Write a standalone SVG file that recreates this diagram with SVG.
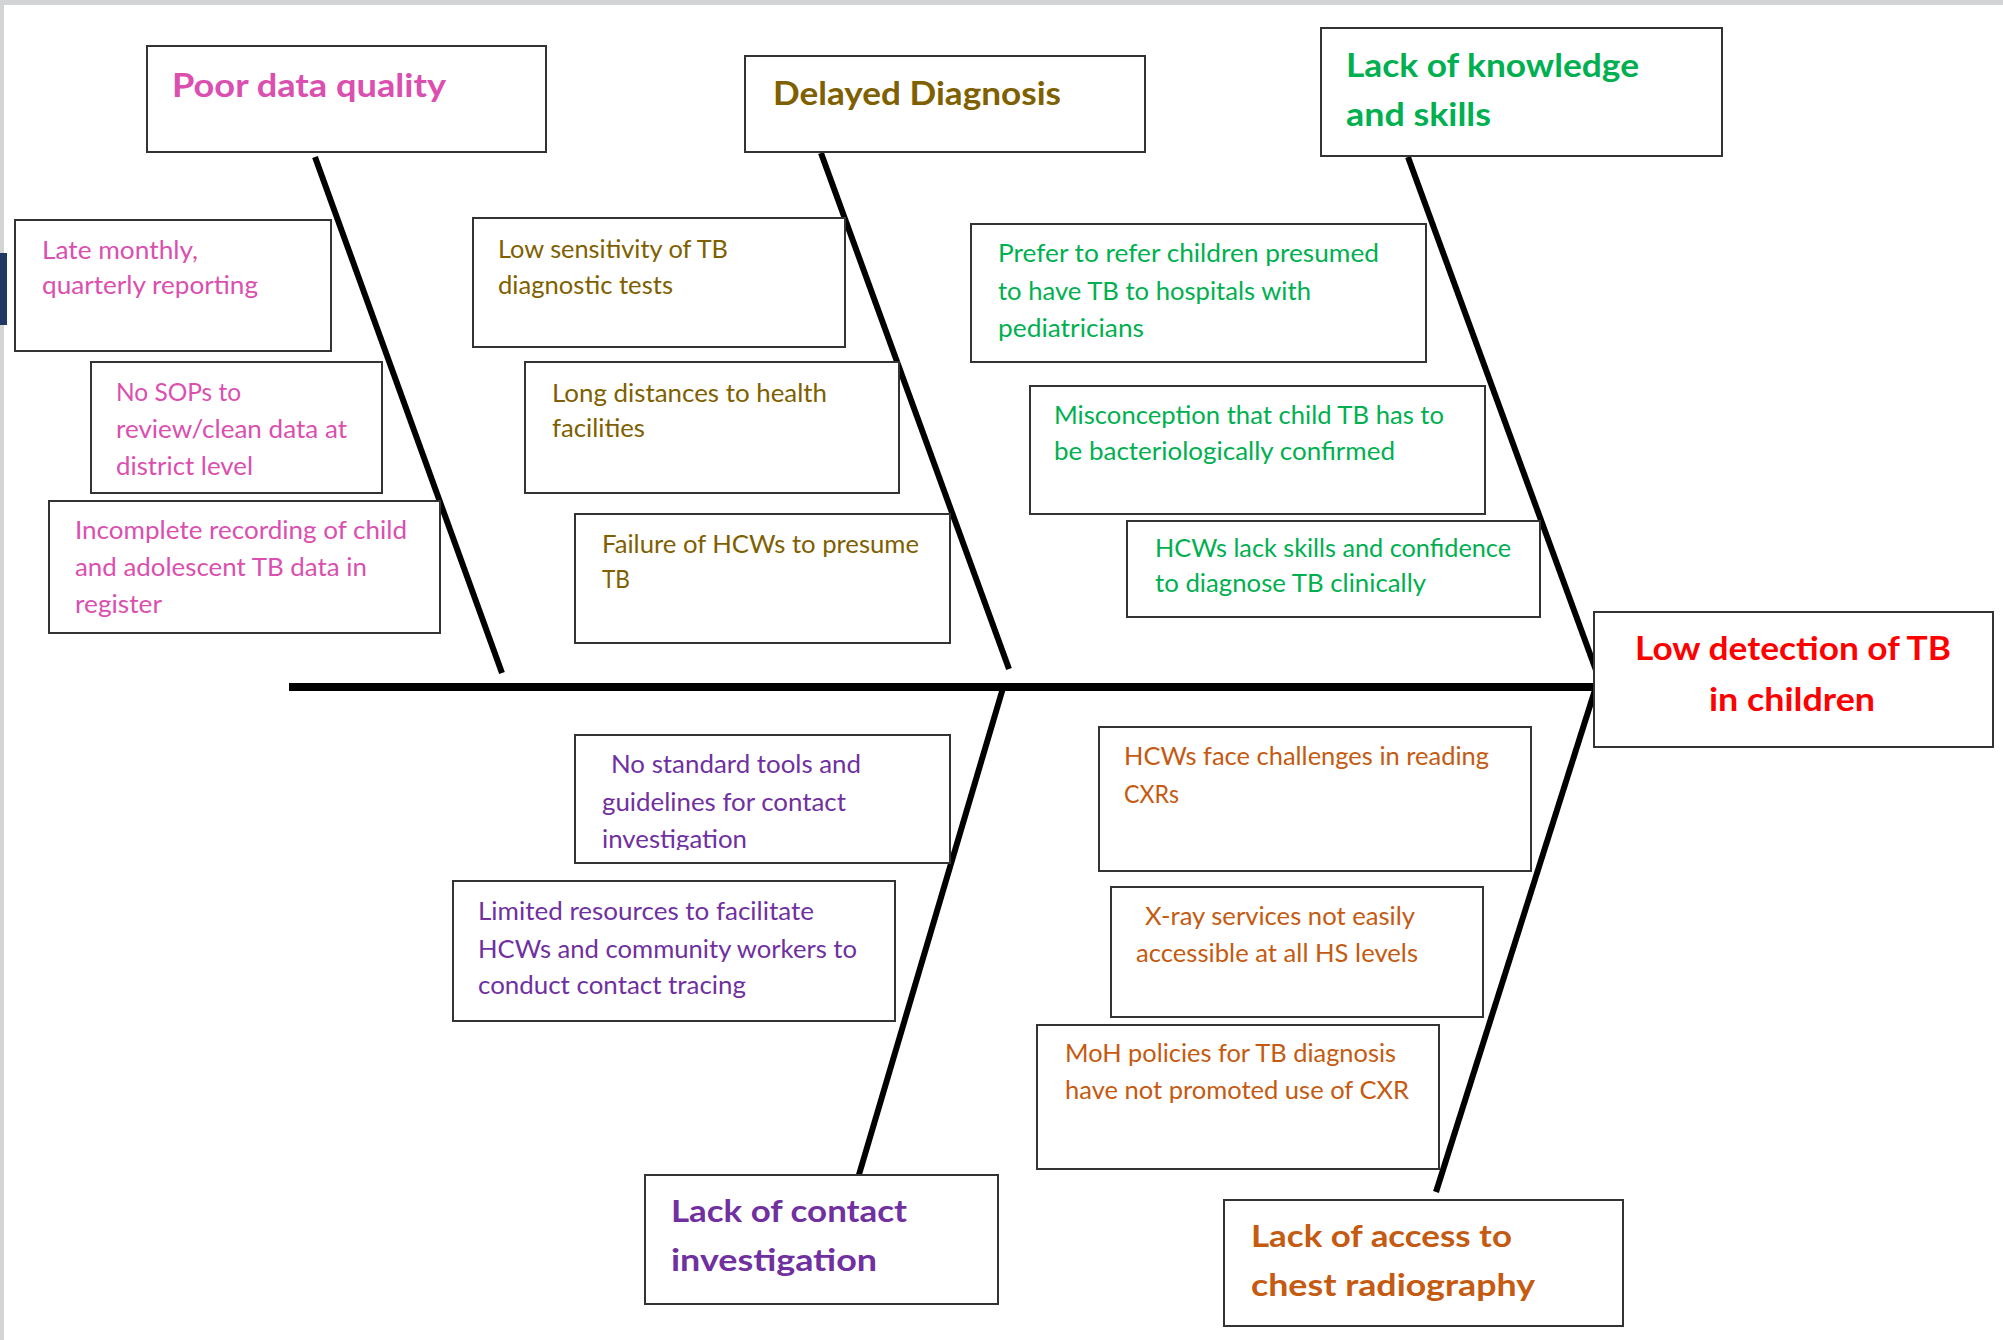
<svg xmlns="http://www.w3.org/2000/svg" width="2003" height="1340" viewBox="0 0 2003 1340">
  <style>
    .box { fill: #ffffff; stroke: #333333; stroke-width: 2; }
    .bone { stroke: #000000; stroke-width: 6; stroke-linecap: butt; fill: none; }
    .spine { stroke: #000000; stroke-width: 8; fill: none; }
    text { font-family: Lato, "Open Sans", "Liberation Sans", sans-serif; }
    .item { font-size: 24.5px; }
    .head { font-size: 33px; font-weight: bold; }
    .head-low { font-size: 30px; font-weight: bold; }
    .pink { fill: #DA4FAF; }
    .olive { fill: #7F6000; }
    .green { fill: #00B050; }
    .red { fill: #FF0000; }
    .purple { fill: #7030A0; }
    .orange { fill: #C55A11; }
  </style>
  <defs>
    <clipPath id="clip-tools">
      <rect x="576" y="736" width="373" height="114"/>
    </clipPath>
  </defs>

  <!-- page background and frame -->
  <rect x="0" y="0" width="2003" height="1340" fill="#ffffff"/>
  <rect x="0" y="0" width="2003" height="5" fill="#d3d4d6"/>
  <rect x="0" y="0" width="4" height="1340" fill="#d3d4d6"/>
  <rect x="0" y="253" width="7" height="72" fill="#203864"/>

  <!-- fishbone spine and branches -->
  <g id="connectors">
    <line class="spine" x1="289" y1="687" x2="1596" y2="687"/>
    <line class="bone" x1="315" y1="157" x2="502" y2="673"/>
    <line class="bone" x1="821" y1="153" x2="1009" y2="669"/>
    <line class="bone" x1="1408" y1="157" x2="1597" y2="673"/>
    <line class="bone" x1="1003" y1="688" x2="858" y2="1178"/>
    <line class="bone" x1="1595" y1="690" x2="1436" y2="1192"/>
  </g>

  <!-- effect -->
  <g id="effect">
    <rect class="box" x="1594" y="612" width="399" height="135"/>
    <text class="head red" x="1635" y="660" font-size="31" textLength="316" lengthAdjust="spacingAndGlyphs">Low detection of TB</text>
    <text class="head red" x="1709" y="711" font-size="31" textLength="166" lengthAdjust="spacingAndGlyphs">in children</text>
  </g>

  <!-- category: data quality -->
  <g id="cat-data-quality">
    <rect class="box" x="147" y="46" width="399" height="106"/>
    <text class="head pink" x="172" y="97" textLength="274" lengthAdjust="spacingAndGlyphs">Poor data quality</text>
  </g>
  <g id="cause-late-reporting">
    <rect class="box" x="15" y="220" width="316" height="131"/>
    <text class="item pink" x="42" y="259" textLength="156" lengthAdjust="spacingAndGlyphs">Late monthly,</text>
    <text class="item pink" x="42" y="294" textLength="216" lengthAdjust="spacingAndGlyphs">quarterly reporting</text>
  </g>
  <g id="cause-no-sops">
    <rect class="box" x="91" y="362" width="291" height="131"/>
    <text class="item pink" x="116" y="401" textLength="125" lengthAdjust="spacingAndGlyphs">No SOPs to</text>
    <text class="item pink" x="116" y="438" textLength="231" lengthAdjust="spacingAndGlyphs">review/clean data at</text>
    <text class="item pink" x="116" y="475" textLength="137" lengthAdjust="spacingAndGlyphs">district level</text>
  </g>
  <g id="cause-incomplete-recording">
    <rect class="box" x="49" y="501" width="391" height="132"/>
    <text class="item pink" x="75" y="539" textLength="332" lengthAdjust="spacingAndGlyphs">Incomplete recording of child</text>
    <text class="item pink" x="75" y="576" textLength="292" lengthAdjust="spacingAndGlyphs">and adolescent TB data in</text>
    <text class="item pink" x="75" y="613" textLength="87" lengthAdjust="spacingAndGlyphs">register</text>
  </g>

  <!-- category: delayed diagnosis -->
  <g id="cat-delayed-diagnosis">
    <rect class="box" x="745" y="56" width="400" height="96"/>
    <text class="head olive" x="773" y="105" textLength="288" lengthAdjust="spacingAndGlyphs">Delayed Diagnosis</text>
  </g>
  <g id="cause-low-sensitivity">
    <rect class="box" x="473" y="218" width="372" height="129"/>
    <text class="item olive" x="498" y="258" textLength="230" lengthAdjust="spacingAndGlyphs">Low sensitivity of TB</text>
    <text class="item olive" x="498" y="294" textLength="175" lengthAdjust="spacingAndGlyphs">diagnostic tests</text>
  </g>
  <g id="cause-long-distances">
    <rect class="box" x="525" y="362" width="374" height="131"/>
    <text class="item olive" x="552" y="402" textLength="275" lengthAdjust="spacingAndGlyphs">Long distances to health</text>
    <text class="item olive" x="552" y="437" textLength="93" lengthAdjust="spacingAndGlyphs">facilities</text>
  </g>
  <g id="cause-failure-presume">
    <rect class="box" x="575" y="514" width="375" height="129"/>
    <text class="item olive" x="602" y="553" textLength="317" lengthAdjust="spacingAndGlyphs">Failure of HCWs to presume</text>
    <text class="item olive" x="602" y="588" textLength="28" lengthAdjust="spacingAndGlyphs">TB</text>
  </g>

  <!-- category: knowledge and skills -->
  <g id="cat-knowledge-skills">
    <rect class="box" x="1321" y="28" width="401" height="128"/>
    <text class="head green" x="1346" y="77" textLength="293" lengthAdjust="spacingAndGlyphs">Lack of knowledge</text>
    <text class="head green" x="1346" y="126" textLength="145" lengthAdjust="spacingAndGlyphs">and skills</text>
  </g>
  <g id="cause-prefer-refer">
    <rect class="box" x="971" y="224" width="455" height="138"/>
    <text class="item green" x="998" y="262" textLength="381" lengthAdjust="spacingAndGlyphs">Prefer to refer children presumed</text>
    <text class="item green" x="998" y="300" textLength="313" lengthAdjust="spacingAndGlyphs">to have TB to hospitals with</text>
    <text class="item green" x="998" y="337" textLength="146" lengthAdjust="spacingAndGlyphs">pediatricians</text>
  </g>
  <g id="cause-misconception">
    <rect class="box" x="1030" y="386" width="455" height="128"/>
    <text class="item green" x="1054" y="424" textLength="390" lengthAdjust="spacingAndGlyphs">Misconception that child TB has to</text>
    <text class="item green" x="1054" y="460" textLength="341" lengthAdjust="spacingAndGlyphs">be bacteriologically confirmed</text>
  </g>
  <g id="cause-lack-skills">
    <rect class="box" x="1127" y="521" width="413" height="96"/>
    <text class="item green" x="1155" y="557" textLength="356" lengthAdjust="spacingAndGlyphs">HCWs lack skills and confidence</text>
    <text class="item green" x="1155" y="592" textLength="271" lengthAdjust="spacingAndGlyphs">to diagnose TB clinically</text>
  </g>

  <!-- category: contact investigation -->
  <g id="cat-contact-investigation">
    <rect class="box" x="645" y="1175" width="353" height="129"/>
    <text class="head-low purple" x="671" y="1222" textLength="236" lengthAdjust="spacingAndGlyphs">Lack of contact</text>
    <text class="head-low purple" x="671" y="1271" textLength="206" lengthAdjust="spacingAndGlyphs">investigation</text>
  </g>
  <g id="cause-no-standard-tools">
    <rect class="box" x="575" y="735" width="375" height="128"/>
    <g clip-path="url(#clip-tools)">
      <text class="item purple" x="611" y="773" textLength="250" lengthAdjust="spacingAndGlyphs">No standard tools and</text>
      <text class="item purple" x="602" y="811" textLength="244" lengthAdjust="spacingAndGlyphs">guidelines for contact</text>
      <text class="item purple" x="602" y="848" textLength="145" lengthAdjust="spacingAndGlyphs">investigation</text>
    </g>
  </g>
  <g id="cause-limited-resources">
    <rect class="box" x="453" y="881" width="442" height="140"/>
    <text class="item purple" x="478" y="920" textLength="336" lengthAdjust="spacingAndGlyphs">Limited resources to facilitate</text>
    <text class="item purple" x="478" y="958" textLength="379" lengthAdjust="spacingAndGlyphs">HCWs and community workers to</text>
    <text class="item purple" x="478" y="994" textLength="268" lengthAdjust="spacingAndGlyphs">conduct contact tracing</text>
  </g>

  <!-- category: chest radiography -->
  <g id="cat-chest-radiography">
    <rect class="box" x="1224" y="1200" width="399" height="126"/>
    <text class="head-low orange" x="1251" y="1247" textLength="261" lengthAdjust="spacingAndGlyphs">Lack of access to</text>
    <text class="head-low orange" x="1251" y="1296" textLength="284" lengthAdjust="spacingAndGlyphs">chest radiography</text>
  </g>
  <g id="cause-reading-cxr">
    <rect class="box" x="1099" y="727" width="432" height="144"/>
    <text class="item orange" x="1124" y="765" textLength="365" lengthAdjust="spacingAndGlyphs">HCWs face challenges in reading</text>
    <text class="item orange" x="1124" y="803" textLength="55" lengthAdjust="spacingAndGlyphs">CXRs</text>
  </g>
  <g id="cause-xray-access">
    <rect class="box" x="1111" y="887" width="372" height="130"/>
    <text class="item orange" x="1145" y="925" textLength="270" lengthAdjust="spacingAndGlyphs">X-ray services not easily</text>
    <text class="item orange" x="1136" y="962" textLength="282" lengthAdjust="spacingAndGlyphs">accessible at all HS levels</text>
  </g>
  <g id="cause-moh-policies">
    <rect class="box" x="1037" y="1025" width="402" height="144"/>
    <text class="item orange" x="1065" y="1062" textLength="331" lengthAdjust="spacingAndGlyphs">MoH policies for TB diagnosis</text>
    <text class="item orange" x="1065" y="1099" textLength="344" lengthAdjust="spacingAndGlyphs">have not promoted use of CXR</text>
  </g>
</svg>
